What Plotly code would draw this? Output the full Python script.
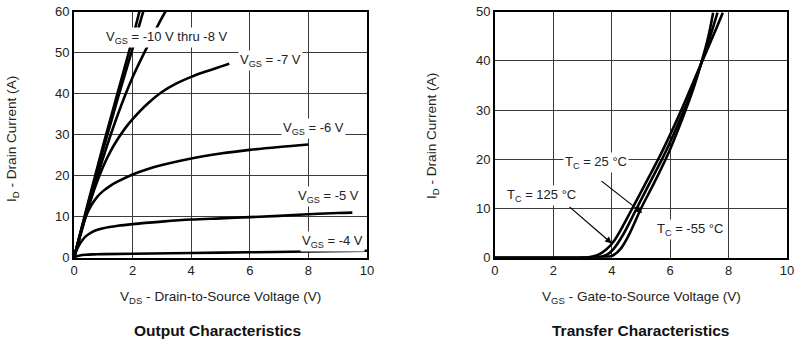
import plotly.graph_objects as go

# ---- Output characteristics: I_D vs V_DS for several V_GS ----
vds_m10 = [0, 0.5, 1.0, 1.5, 2.0, 2.3]
id_m10 = [0, 14.0, 27.5, 40.5, 53.5, 62.0]
vds_m9 = [0, 0.5, 1.0, 1.5, 2.0, 2.3, 2.45]
id_m9 = [0, 13.5, 26.5, 39.0, 51.0, 58.5, 62.0]
vds_m8 = [0, 0.5, 1.0, 1.5, 2.0, 2.4, 3.0, 3.25]
id_m8 = [0, 12.5, 24.5, 35.0, 44.0, 50.0, 58.5, 61.5]
vds_m7 = [0, 0.25, 0.5, 0.75, 1.0, 1.25, 1.5, 1.75, 2.0, 2.5, 3.0, 3.5, 4.0, 4.5, 5.0, 5.3]
id_m7 = [0, 6.5, 12.5, 17.8, 22.3, 26.0, 29.0, 31.6, 33.8, 37.5, 40.4, 42.5, 44.1, 45.4, 46.6, 47.3]
vds_m6 = [0, 0.1, 0.2, 0.3, 0.4, 0.6, 0.8, 1.0, 1.25, 1.5, 2.0, 2.5, 3.0, 4.0, 5.0, 6.0, 7.0, 8.0]
id_m6 = [0, 2.8, 5.5, 8.0, 10.0, 12.9, 14.9, 16.3, 17.6, 18.6, 20.3, 21.6, 22.6, 24.2, 25.4, 26.3, 27.0, 27.6]
vds_m5 = [0, 0.1, 0.2, 0.3, 0.4, 0.6, 0.8, 1.0, 1.5, 2.0, 3.0, 4.0, 5.0, 6.0, 7.0, 8.0, 9.0, 9.5]
id_m5 = [0, 2.0, 3.4, 4.4, 5.2, 6.2, 6.8, 7.2, 7.8, 8.2, 8.8, 9.3, 9.6, 9.9, 10.2, 10.6, 10.9, 11.0]
vds_m4 = [0, 0.1, 0.2, 0.4, 0.7, 1.0, 2.0, 4.0, 6.0, 8.0, 10.0]
id_m4 = [0, 0.35, 0.55, 0.72, 0.82, 0.88, 0.98, 1.15, 1.33, 1.5, 1.7]

# ---- Transfer characteristics: I_D vs V_GS at three case temperatures ----
vgs_125 = [0, 2.9, 3.2, 3.5, 3.8, 4.1, 4.7, 5.2, 5.7, 6.2, 6.6, 7.05, 7.5, 7.8]
id_125 = [0, 0, 0.1, 0.5, 1.6, 3.6, 10.0, 15.6, 21.3, 27.6, 33.0, 39.3, 45.5, 49.8]
vgs_25 = [0, 3.2, 3.5, 3.8, 4.05, 4.35, 4.85, 5.3, 5.8, 6.3, 6.7, 7.05, 7.35, 7.62]
id_25 = [0, 0, 0.1, 0.5, 1.7, 4.3, 10.0, 15.2, 21.0, 27.6, 33.3, 39.3, 44.6, 49.8]
vgs_m55 = [0, 3.5, 3.8, 4.05, 4.3, 4.6, 5.0, 5.45, 5.95, 6.4, 6.75, 7.05, 7.3, 7.47]
id_m55 = [0, 0, 0.1, 0.5, 1.8, 4.8, 10.0, 15.2, 21.4, 28.0, 33.6, 39.3, 44.8, 49.8]

FONT = "Liberation Sans, Arial, sans-serif"
LINE = dict(color="black", width=2.6, shape="spline", smoothing=1.0)

fig = go.Figure()

for xs, ys in [(vds_m10, id_m10), (vds_m9, id_m9), (vds_m8, id_m8), (vds_m7, id_m7),
               (vds_m6, id_m6), (vds_m5, id_m5), (vds_m4, id_m4)]:
    fig.add_trace(go.Scatter(x=xs, y=ys, mode="lines", line=LINE,
                             xaxis="x", yaxis="y", showlegend=False, hoverinfo="skip"))

for xs, ys in [(vgs_125, id_125), (vgs_25, id_25), (vgs_m55, id_m55)]:
    fig.add_trace(go.Scatter(x=xs, y=ys, mode="lines", line=LINE,
                             xaxis="x2", yaxis="y2", showlegend=False, hoverinfo="skip"))

axis_common = dict(
    showgrid=True, gridcolor="#3a3a3a", gridwidth=1.3,
    showline=True, linecolor="black", linewidth=2, mirror=True,
    zeroline=False, ticks="", tickfont=dict(family=FONT, size=13, color="#222"),
    fixedrange=True,
)

ydom = [0.2616, 0.9665]
fig.update_layout(
    width=799, height=349,
    margin=dict(l=0, r=0, t=0, b=0, autoexpand=False),
    paper_bgcolor="white", plot_bgcolor="white",
    font=dict(family=FONT, color="#222"),
    xaxis=dict(domain=[0.0926, 0.4593], range=[0, 10], dtick=2, anchor="y", **axis_common),
    yaxis=dict(domain=ydom, range=[0, 60], dtick=10, anchor="x", **axis_common),
    xaxis2=dict(domain=[0.6195, 0.985], range=[0, 10], dtick=2, anchor="y2", **axis_common),
    yaxis2=dict(domain=ydom, range=[0, 50], dtick=10, anchor="x2", **axis_common),
)

ann = []
lbl = dict(showarrow=False, bgcolor="white", borderpad=1,
           xanchor="center", yanchor="middle",
           font=dict(family=FONT, size=13, color="#222"))

# curve labels, output characteristics
for text, x, y in [("V<sub>GS</sub> = -10 V thru -8 V", 3.17, 53.8),
                   ("V<sub>GS</sub> = -7 V", 6.7, 48.0),
                   ("V<sub>GS</sub> = -6 V", 8.16, 31.6),
                   ("V<sub>GS</sub> = -5 V", 8.7, 15.0),
                   ("V<sub>GS</sub> = -4 V", 8.84, 4.0)]:
    ann.append(dict(text=text, x=x, y=y, xref="x", yref="y", **lbl))

# temperature labels, transfer characteristics
for text, x, y in [("T<sub>C</sub> = 25 °C", 3.45, 19.4),
                   ("T<sub>C</sub> = 125 °C", 1.58, 12.7),
                   ("T<sub>C</sub> = -55 °C", 6.67, 5.8)]:
    ann.append(dict(text=text, x=x, y=y, xref="x2", yref="y2", **lbl))

# pointer arrows to the 25 °C and 125 °C curves
for tip, tail in [((5.04, 9.1), (3.6, 15.8)), ((4.0, 2.9), (2.5, 10.6))]:
    ann.append(dict(text="", x=tip[0], y=tip[1], ax=tail[0], ay=tail[1],
                    xref="x2", yref="y2", axref="x2", ayref="y2",
                    showarrow=True, arrowhead=2, arrowsize=1.1, arrowwidth=1.2,
                    arrowcolor="black"))

# axis titles and panel captions
tfont = dict(family=FONT, size=13.6, color="#222")
cap = dict(xref="paper", yref="paper", showarrow=False, xanchor="center", yanchor="middle")
ann += [
    dict(text="V<sub>DS</sub> - Drain-to-Source Voltage (V)", x=220 / 799, y=1 - 297 / 349,
         font=tfont, **cap),
    dict(text="V<sub>GS</sub> - Gate-to-Source Voltage (V)", x=641 / 799, y=1 - 297 / 349,
         font=tfont, **cap),
    dict(text="I<sub>D</sub> - Drain Current (A)", x=12 / 799, y=1 - 139 / 349,
         textangle=-90, font=tfont, **cap),
    dict(text="I<sub>D</sub> - Drain Current (A)", x=432 / 799, y=1 - 136 / 349,
         textangle=-90, font=tfont, **cap),
    dict(text="<b>Output Characteristics</b>", x=218 / 799, y=1 - 330 / 349,
         font=dict(family=FONT, size=15.5, color="#111"), **cap),
    dict(text="<b>Transfer Characteristics</b>", x=640 / 799, y=1 - 330 / 349,
         font=dict(family=FONT, size=15.5, color="#111"), **cap),
]
fig.update_layout(annotations=ann)

fig.write_html("out.html")
